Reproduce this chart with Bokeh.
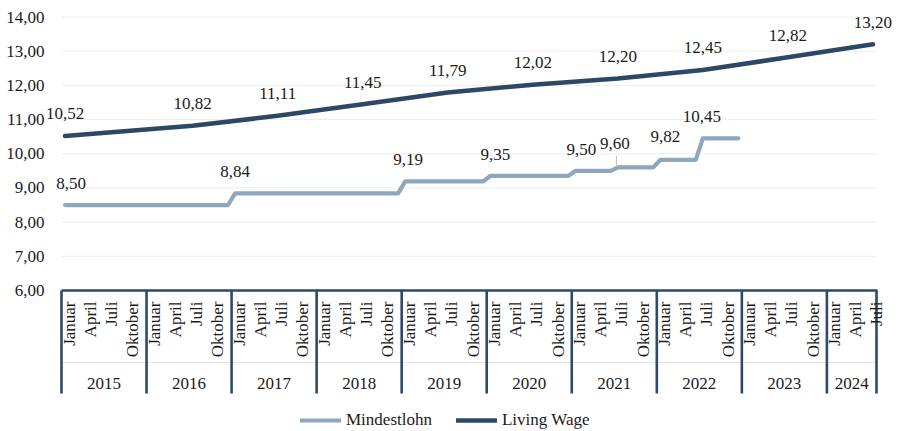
import math
from bokeh.plotting import figure
from bokeh.models import (Range1d, FixedTicker, Legend, LegendItem, CustomJSTickFormatter,
                          LabelSet, ColumnDataSource)
from bokeh.embed import file_html
from bokeh.resources import INLINE
from bokeh.core.properties import value

# ---------------- data ----------------
years = [2015, 2016, 2017, 2018, 2019, 2020, 2021, 2022, 2023, 2024]
months_in_year = [12, 12, 12, 12, 12, 12, 12, 12, 12, 7]
month_labels = {1: "Januar", 4: "April", 7: "Juli", 10: "Oktober"}

# Mindestlohn: first month of each new level, its value, and last month shown
mindestlohn_start = [(2015, 1), (2017, 1), (2019, 1), (2020, 1), (2021, 1), (2021, 7), (2022, 1), (2022, 7)]
mindestlohn_values = [8.50, 8.84, 9.19, 9.35, 9.50, 9.60, 9.82, 10.45]
mindestlohn_last = (2022, 12)

# Living Wage
living_wage_dates = [(2015, 1), (2016, 7), (2017, 7), (2018, 7), (2019, 7), (2020, 7),
                     (2021, 7), (2022, 7), (2023, 7), (2024, 7)]
living_wage_values = [10.52, 10.82, 11.11, 11.45, 11.79, 12.02, 12.20, 12.45, 12.82, 13.20]

y_ticks = [6, 7, 8, 9, 10, 11, 12, 13, 14]

# ---------------- styles ----------------
FAM = "'Liberation Serif', 'Times New Roman', serif"
FONT = value(FAM)
FS = "17px"
TXT = "#1a1a1a"
C_MIN = "#8fa7bd"
C_LW = "#2d4866"
C_AX = "#2f4a68"

def idx(ym):
    return (ym[0] - years[0]) * 12 + (ym[1] - 1)

def de(v):
    return f"{v:.2f}".replace(".", ",")

n_months = sum(months_in_year)
px_per_unit_y = (290 - 16.5) / 8.0
y_top = 14 + 6.5 / px_per_unit_y
y_bot = 6 - 141 / px_per_unit_y
y_sep_bot = 6 - 103 / px_per_unit_y
y_div = 6 - 72 / px_per_unit_y
y_year = 6 - 93 / px_per_unit_y

W, H = 898, 431
left = 40          # frame starts left of the category axis so edge labels are not clipped
x0_px = 61         # pixel where the first month begins
top = 10
ppu_x = 815.0 / n_months
x_start = -(x0_px - left) / ppu_x
x_end = n_months + (W - 876) / ppu_x

p = figure(width=W, height=H, output_backend="svg", toolbar_location=None,
           x_range=Range1d(x_start, x_end), y_range=Range1d(y_bot, y_top),
           min_border_left=left, min_border_right=0, min_border_top=top,
           min_border_bottom=0)
p.outline_line_color = None
p.background_fill_color = "white"
p.border_fill_color = "white"
p.xaxis.visible = False
p.xgrid.visible = False
p.ygrid.visible = False

ax = p.yaxis[0]
ax.ticker = FixedTicker(ticks=y_ticks)
ax.formatter = CustomJSTickFormatter(code="return tick.toFixed(2).replace('.', ',');")
ax.axis_line_color = None
ax.major_tick_line_color = None
ax.minor_tick_line_color = None
ax.major_tick_out = 0
ax.major_tick_in = 0
ax.major_label_standoff = -4
ax.major_label_text_font = FAM
ax.major_label_text_font_size = FS
ax.major_label_text_color = TXT

# gridlines
gy = [t for t in y_ticks if t > y_ticks[0]]
p.segment(x0=[0] * len(gy), x1=[n_months] * len(gy), y0=gy, y1=gy,
          line_color="#ededed", line_width=1)

# category axis box
bounds = [0]
for m in months_in_year:
    bounds.append(bounds[-1] + m)
p.segment(x0=[0], x1=[n_months], y0=[y_div], y1=[y_div], line_color="#e4e4e4", line_width=1)
p.segment(x0=bounds[:-1], x1=bounds[:-1], y0=[y_ticks[0]] * (len(bounds) - 1),
          y1=[y_sep_bot] * (len(bounds) - 1), line_color=C_AX, line_width=2.6)
p.line(x=[0, n_months, n_months], y=[y_ticks[0], y_ticks[0], y_sep_bot],
       line_color=C_AX, line_width=2.6, line_join="round")

mx, mt = [], []
for yi, (yr, nm) in enumerate(zip(years, months_in_year)):
    for m in range(1, nm + 1):
        if m in month_labels:
            mx.append(bounds[yi] + (m - 1) + 0.5)
            mt.append(month_labels[m])
p.text(x=mx, y=[y_ticks[0]] * len(mx), text=mt, angle=math.pi / 2, x_offset=4, y_offset=11,
       text_align="right", text_baseline="middle", text_font=FONT, text_font_size=FS,
       text_color=TXT)
yc = [(bounds[i] + bounds[i + 1]) / 2 for i in range(len(years))]
p.text(x=yc, y=[y_year] * len(yc), text=[str(y) for y in years], text_align="center",
       text_baseline="middle", text_font=FONT, text_font_size=FS, text_color=TXT)

# Mindestlohn series
starts = [idx(s) for s in mindestlohn_start]
ml_x, ml_y = [], []
for i in range(idx(mindestlohn_last) + 1):
    k = max(j for j, s in enumerate(starts) if s <= i)
    ml_x.append(i + 0.5)
    ml_y.append(mindestlohn_values[k])
r_min = p.line(ml_x, ml_y, line_color=C_MIN, line_width=4.2, line_join="round", line_cap="round")

# Living wage
lw_x = [idx(d) + 0.5 for d in living_wage_dates]
r_lw = p.line(lw_x, living_wage_values, line_color=C_LW, line_width=4.6,
              line_join="round", line_cap="round")

# data labels
lw_src = ColumnDataSource(dict(x=lw_x, y=living_wage_values,
                               t=[de(v) for v in living_wage_values],
                               xo=[0] * len(lw_x), yo=[22] * len(lw_x)))
ml_lx = [s + 0.5 for s in starts]
ml_src = ColumnDataSource(dict(x=ml_lx, y=mindestlohn_values,
                               t=[de(v) for v in mindestlohn_values],
                               xo=[6, 0, 3, 5, 6, -3, 5, -1],
                               yo=[22, 22, 22, 21, 21, 24, 23, 22]))
for src in (lw_src, ml_src):
    p.add_layout(LabelSet(x="x", y="y", text="t", source=src, x_offset="xo", y_offset="yo",
                          text_align="center", text_baseline="middle", text_font=FAM,
                          text_font_size=FS, text_color=TXT))

# leader line for 9,60
k960 = mindestlohn_values.index(9.60)
p.segment(x0=[ml_lx[k960] - 0.2], x1=[ml_lx[k960] - 0.2], y0=[mindestlohn_values[k960] + 0.02],
          y1=[mindestlohn_values[k960] + 0.34], line_color="#bfbfbf", line_width=1)

legend = Legend(items=[LegendItem(label="Mindestlohn", renderers=[r_min]),
                       LegendItem(label="Living Wage", renderers=[r_lw])],
                orientation="horizontal", location=(300 - left, 1),
                border_line_color=None, background_fill_alpha=0,
                padding=0, margin=0, spacing=24, glyph_width=41, glyph_height=20,
                label_standoff=5, label_text_font=FAM,
                label_text_font_size=FS, label_text_color=TXT)
p.add_layout(legend)

open("out.html", "w").write(file_html(p, INLINE))
